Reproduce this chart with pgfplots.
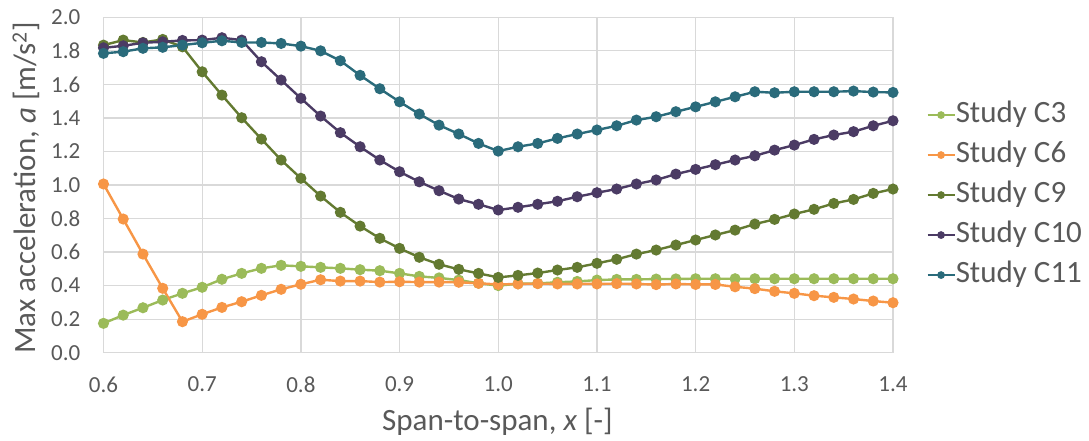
\documentclass[border=0pt]{standalone}
\usepackage{fontspec}
\setmainfont{Carlito}
\usepackage{pgfplots}
\usepackage{pgfplotstable}
\pgfplotsset{compat=1.18}

\definecolor{gridgray}{HTML}{D9D9D9}
\definecolor{labelgray}{HTML}{595959}
\definecolor{cthree}{HTML}{9BBB59}
\definecolor{csix}{HTML}{F79646}
\definecolor{cnine}{HTML}{637A31}
\definecolor{cten}{HTML}{4B3B64}
\definecolor{celeven}{HTML}{2A6B7B}

% span-to-span ratio vs. maximum acceleration for each study
\pgfplotstableread{
x     c3     c6     c9     c10    c11
0.60  0.175  1.006  1.834  1.818  1.785
0.62  0.224  0.797  1.864  1.830  1.795
0.64  0.268  0.588  1.850  1.848  1.815
0.66  0.314  0.384  1.868  1.854  1.821
0.68  0.354  0.185  1.824  1.862  1.834
0.70  0.390  0.229  1.675  1.864  1.848
0.72  0.438  0.270  1.536  1.878  1.860
0.74  0.473  0.304  1.401  1.864  1.850
0.76  0.503  0.342  1.274  1.735  1.850
0.78  0.521  0.378  1.149  1.626  1.844
0.80  0.515  0.408  1.040  1.517  1.828
0.82  0.509  0.435  0.934  1.411  1.800
0.84  0.503  0.427  0.837  1.312  1.741
0.86  0.495  0.427  0.755  1.228  1.654
0.88  0.489  0.421  0.682  1.149  1.574
0.90  0.473  0.423  0.622  1.079  1.496
0.92  0.455  0.421  0.569  1.019  1.423
0.94  0.446  0.421  0.527  0.966  1.357
0.96  0.433  0.420  0.497  0.916  1.304
0.98  0.414  0.414  0.473  0.885  1.248
1.00  0.400  0.407  0.449  0.851  1.202
1.02  0.411  0.410  0.461  0.867  1.228
1.04  0.413  0.412  0.475  0.885  1.248
1.06  0.420  0.410  0.493  0.903  1.278
1.08  0.425  0.410  0.509  0.930  1.304
1.10  0.433  0.410  0.533  0.954  1.328
1.12  0.437  0.412  0.557  0.976  1.353
1.14  0.437  0.410  0.588  1.006  1.387
1.16  0.439  0.406  0.612  1.030  1.407
1.18  0.440  0.410  0.642  1.065  1.437
1.20  0.441  0.407  0.672  1.093  1.466
1.22  0.441  0.407  0.702  1.121  1.496
1.24  0.441  0.393  0.731  1.149  1.526
1.26  0.441  0.382  0.767  1.174  1.556
1.28  0.441  0.366  0.795  1.208  1.550
1.30  0.441  0.354  0.827  1.238  1.556
1.32  0.441  0.340  0.855  1.272  1.556
1.34  0.441  0.330  0.890  1.298  1.556
1.36  0.441  0.320  0.914  1.318  1.560
1.38  0.441  0.308  0.950  1.353  1.554
1.40  0.441  0.298  0.976  1.383  1.552
}\accdata

\begin{document}
\begin{tikzpicture}[x=1pt,y=1pt]
\begin{axis}[
  name=ax,
  scale only axis, width=789.5pt, height=335.4pt,
  xmin=0.6, xmax=1.4, ymin=0, ymax=2,
  xtick={0.6,0.7,0.8,0.9,1.0,1.1,1.2,1.3,1.4},
  ytick={0,0.2,0.4,0.6,0.8,1.0,1.2,1.4,1.6,1.8,2.0},
  /pgf/number format/fixed,
  /pgf/number format/fixed zerofill,
  /pgf/number format/precision=1,
  /pgf/number format/assume math mode=true,
  major tick length=0pt,
  grid=major,
  major grid style={draw=gridgray, line width=1.3pt},
  axis line style={draw=gridgray, line width=1.3pt},
  tick label style={font=\fontsize{23}{27}\selectfont, text=labelgray, inner sep=0pt},
  xticklabel style={anchor=north, yshift=-24pt},
  yticklabel style={anchor=east, xshift=-23pt},
  xlabel={Span-to-span, \textit{x} [-]},
  ylabel={Max acceleration, \textit{a} [m/s\textsuperscript{2}]},
  label style={font=\fontsize{31}{36}\selectfont, text=labelgray},
  xlabel style={at={(axis description cs:0.499,-0.205)}, anchor=center},
  ylabel style={at={(axis description cs:-0.098,0.491)}, anchor=center},
  legend style={at={(axis description cs:1.042,0.47)}, anchor=west,
    draw=none, fill=none, inner sep=0pt, row sep=11pt, column sep=0pt,
    font=\fontsize{31}{36}\selectfont, text=labelgray,
    nodes={inner sep=0pt, text height=22pt, text depth=7pt}},
  legend cell align=left,
  legend image code/.code={\draw[mark repeat=2,mark phase=2,#1,mark size=2.6pt]
    plot coordinates {(0pt,0pt) (13.5pt,0pt) (27pt,0pt)};},
  every axis plot/.append style={line width=2.4pt, mark=*, mark size=4.3pt},
]
\addplot[color=cthree, mark options={fill=cthree, draw=cthree}] table[x=x, y=c3] {\accdata};
\addlegendentry{Study C3}
\addplot[color=csix, mark options={fill=csix, draw=csix}] table[x=x, y=c6] {\accdata};
\addlegendentry{Study C6}
\addplot[color=cnine, mark options={fill=cnine, draw=cnine}] table[x=x, y=c9] {\accdata};
\addlegendentry{Study C9}
\addplot[color=cten, mark options={fill=cten, draw=cten}] table[x=x, y=c10] {\accdata};
\addlegendentry{Study C10}
\addplot[color=celeven, mark options={fill=celeven, draw=celeven}] table[x=x, y=c11] {\accdata};
\addlegendentry{Study C11}
\end{axis}
% fixed page frame around the plot area
\pgfresetboundingbox
\path[use as bounding box] ([shift={(-103.5pt,-88.3pt)}]ax.south west) rectangle ++(1089pt,441pt);
\end{tikzpicture}
\end{document}
